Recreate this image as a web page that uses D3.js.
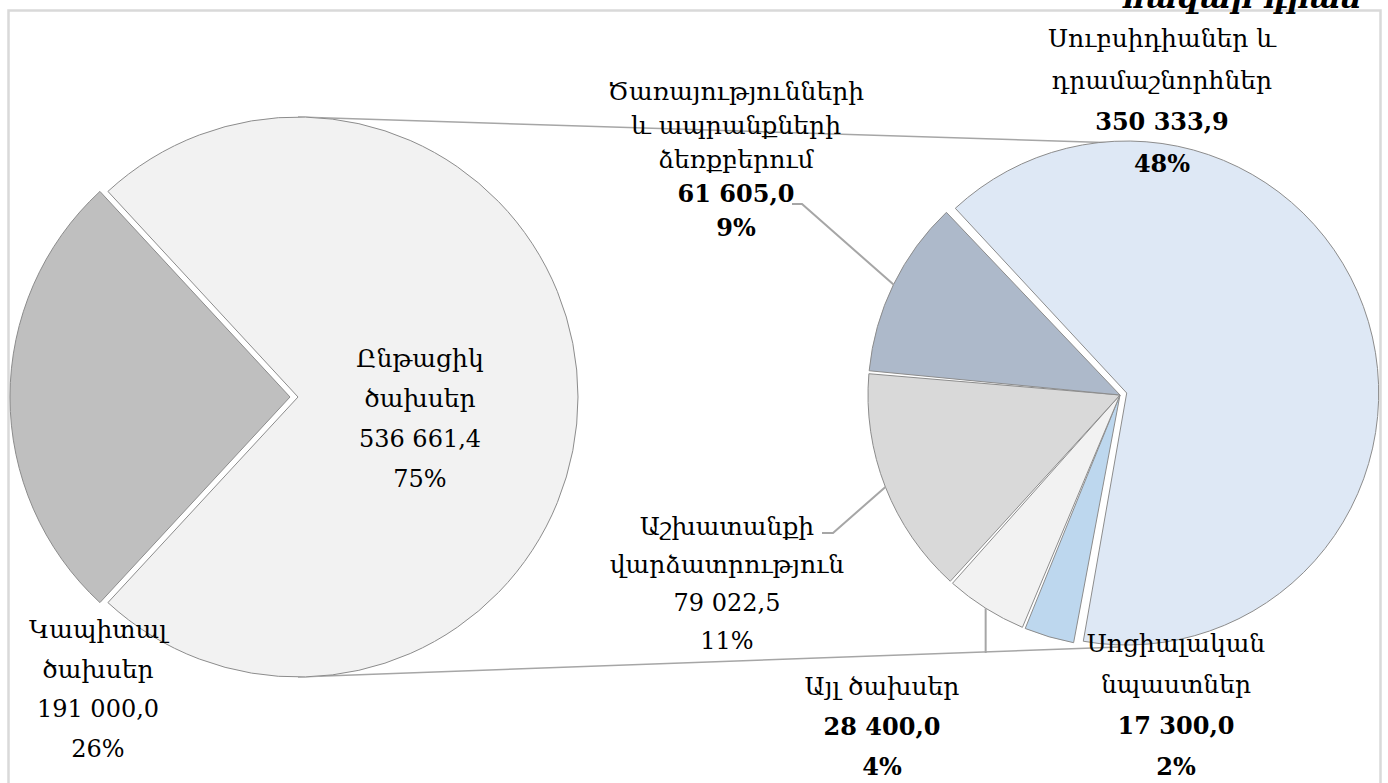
<!DOCTYPE html>
<html>
<head>
<meta charset="utf-8">
<script src="https://cdn.jsdelivr.net/npm/d3@7"></script>
<style>
  body { margin: 0; background: #fff; }
  svg { display: block; }
  text { font-family: "DejaVu Serif", "Noto Sans", serif; fill: #000; }
</style>
</head>
<body>
<div id="chart"></div>
<script>
// main pie: capital vs current spending
const mainCats = [["Կապիտալ", "ծախսեր"], ["Ընթացիկ", "ծախսեր"]];
const mainValues = [191000.0, 536661.4];
const mainPcts = ["26%", "75%"];

// second pie: breakdown of current spending
const subCats = [
    ["Սուբսիդիաներ և", "դրամաշնորհներ"],
    ["Սոցիալական", "նպաստներ"],
    ["Այլ ծախսեր"],
    ["Աշխատանքի", "վարձատրություն"],
    ["Ծառայությունների", "և ապրանքների", "ձեռքբերում"]
];
const subValues = [350333.9, 17300.0, 28400.0, 79022.5, 61605.0];
const subPcts = ["48%", "2%", "4%", "11%", "9%"];

const unitText = "հազար դրամ";

const W = 1388, H = 783;
const mainColors = ["#bfbfbf", "#f2f2f2"];
const subColors = ["#dee8f5", "#bdd7ee", "#f2f2f2", "#d9d9d9", "#adb9ca"];

const svg = d3.select("#chart").append("svg")
    .attr("width", W)
    .attr("height", H);

// chart frame
svg.append("rect")
    .attr("x", 8.5).attr("y", 10.5)
    .attr("width", 1372).attr("height", 820)
    .attr("fill", "none")
    .attr("stroke", "#d9d9d9")
    .attr("stroke-width", 2.5);

// unit title, cut by the top edge as in the source
svg.append("text")
    .attr("x", 1362).attr("y", 8)
    .attr("text-anchor", "end")
    .style("font-size", "30px")
    .style("font-weight", "bold")
    .style("font-style", "italic")
    .text(unitText);

const fmt = d3.formatLocale({ decimal: ",", thousands: " ", grouping: [3], currency: ["", ""] }).format(",.1f");

// geometry
const L = { cx: 298, cy: 397, r: 280 };
const R = { cx: 1120, cy: 395, r: 252 };

// series lines between the two pies
const seriesLines = [
    [[L.cx, L.cy - L.r], [R.cx, R.cy - R.r]],
    [[L.cx, L.cy + L.r], [R.cx, R.cy + R.r]]
];
svg.selectAll(".series-line")
    .data(seriesLines)
    .enter().append("line")
    .attr("class", "series-line")
    .attr("x1", d => d[0][0]).attr("y1", d => d[0][1])
    .attr("x2", d => d[1][0]).attr("y2", d => d[1][1])
    .attr("stroke", "#a6a6a6")
    .attr("stroke-width", 1.5);

// left pie, capital slice centered on the left
const capAngle = mainValues[0] / d3.sum(mainValues) * 2 * Math.PI;
const start1 = 1.5 * Math.PI - capAngle / 2;
const pie1 = d3.pie().sort(null).startAngle(start1).endAngle(start1 + 2 * Math.PI);
const arc1 = d3.arc().innerRadius(0).outerRadius(L.r);
const explode1 = [8, 0];

const g1 = svg.append("g").attr("transform", `translate(${L.cx},${L.cy})`);
g1.selectAll("path")
    .data(pie1(mainValues))
    .enter().append("path")
    .attr("d", arc1)
    .attr("transform", (d, i) => {
        const a = (d.startAngle + d.endAngle) / 2;
        return `translate(${explode1[i] * Math.sin(a)},${-explode1[i] * Math.cos(a)})`;
    })
    .attr("fill", (d, i) => mainColors[i])
    .attr("stroke", "#8c8c8c")
    .attr("stroke-width", 1);

// right pie
const start2 = -43.2 * Math.PI / 180;
const pie2 = d3.pie().sort(null).startAngle(start2).endAngle(start2 + 2 * Math.PI)
    .padAngle(3 / R.r);
const arc2 = d3.arc().innerRadius(0).outerRadius(R.r).padRadius(R.r);
const explode2 = [7, 0, 0, 0, 0];
const arcs2 = pie2(subValues);

const g2 = svg.append("g").attr("transform", `translate(${R.cx},${R.cy})`);
g2.selectAll("path")
    .data(arcs2)
    .enter().append("path")
    .attr("d", arc2)
    .attr("transform", (d, i) => {
        const a = (d.startAngle + d.endAngle) / 2;
        return `translate(${explode2[i] * Math.sin(a)},${-explode2[i] * Math.cos(a)})`;
    })
    .attr("fill", (d, i) => subColors[i])
    .attr("stroke", "#8c8c8c")
    .attr("stroke-width", 1);

// leader lines from label to the middle of the slice edge
function edgePoint(d) {
    const a = (d.startAngle + d.endAngle) / 2;
    return [R.cx + R.r * Math.sin(a), R.cy - R.r * Math.cos(a)];
}
const leaders = [
    { i: 4, pts: [[792, 204], [802, 204]] },
    { i: 3, pts: [[822, 533], [833, 533]] },
    { i: 2, pts: null }
];
leaders.forEach(l => {
    const e = edgePoint(arcs2[l.i]);
    const pts = l.pts ? l.pts.concat([e]) : [[e[0], 653], e];
    svg.append("path")
        .attr("d", d3.line()(pts))
        .attr("fill", "none")
        .attr("stroke", "#a6a6a6")
        .attr("stroke-width", 2);
});

// data labels
const mainLayout = [
    { x: 98, y: 638, lh: 39.5, bold: false },
    { x: 420, y: 367, lh: 40, bold: false }
];
const subLayout = [
    { x: 1162, y: 47, lh: 41.5, bold: true },
    { x: 1176, y: 652, lh: 41, bold: true },
    { x: 882, y: 695, lh: 40, bold: true },
    { x: 727, y: 535, lh: 38, bold: false },
    { x: 736, y: 100, lh: 34, bold: true }
];

function drawLabel(lines, value, pct, lay) {
    const all = lines.concat([fmt(value), pct]);
    const t = svg.append("text")
        .attr("text-anchor", "middle")
        .style("font-size", "25px");
    all.forEach((s, k) => {
        t.append("tspan")
            .attr("x", lay.x)
            .attr("y", lay.y + k * lay.lh)
            .style("font-weight", lay.bold && k >= lines.length ? "bold" : "normal")
            .style("font-size", k >= lines.length ? "24px" : "25px")
            .text(s);
    });
}
mainValues.forEach((v, i) => drawLabel(mainCats[i], v, mainPcts[i], mainLayout[i]));
subValues.forEach((v, i) => drawLabel(subCats[i], v, subPcts[i], subLayout[i]));
</script>
</body>
</html>
